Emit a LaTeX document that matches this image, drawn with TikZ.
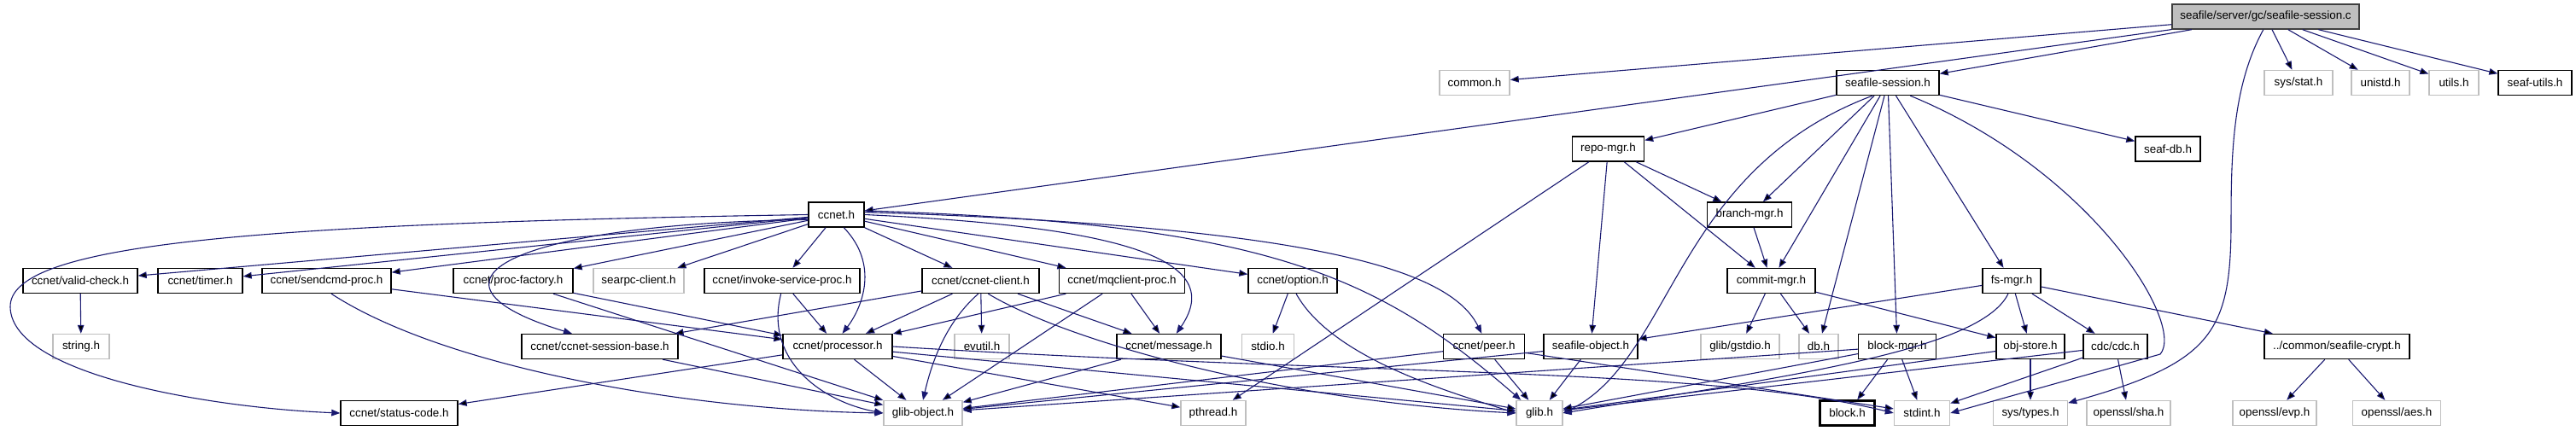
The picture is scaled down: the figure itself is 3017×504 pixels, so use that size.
\documentclass[tikz,border=0pt]{standalone}
\usepackage{fontspec}
\setmainfont{Liberation Sans}
\usetikzlibrary{arrows.meta,positioning}

\definecolor{depblue}{HTML}{191970}
\definecolor{sysgray}{HTML}{BFBFBF}

\tikzset{
  file/.style={draw=black, line width=0.7pt, fill=white, inner sep=0pt,
    minimum height=14.5pt, font=\fontsize{6.7}{8}\selectfont},
  sysfile/.style={file, draw=sysgray},
  rootfile/.style={file, fill=sysgray, draw=black!75},
  boxw/.style={minimum width=#1*0.5pt},
  dep/.style={->, >={Triangle[length=5pt,width=3.8pt]}, draw=depblue, line width=0.55pt}
}

\begin{document}
\begin{tikzpicture}[x=0.5pt,y=-0.5pt]
\useasboundingbox (0,0) rectangle (3017,504);

% the file itself
\node[rootfile, boxw=219] (root) at (2653.5,19.5) {seafile/server/gc/seafile-session.c};

% first level
\node[sysfile, boxw=82] (common)    at (1727,97) {common.h};
\node[file, boxw=120]   (sess)      at (2211,97) {seafile-session.h};
\node[sysfile, boxw=80] (sysstat)   at (2692,97) {sys/stat.h};
\node[sysfile, boxw=68] (unistd)    at (2788,97) {unistd.h};
\node[sysfile, boxw=58] (utils)     at (2874,97) {utils.h};
\node[file, boxw=86]    (seafutils) at (2969,97) {seaf-utils.h};

\node[file, boxw=84] (repo)   at (1883.5,174.5) {repo-mgr.h};
\node[file, boxw=76] (seafdb) at (2539,174.5) {seaf-db.h};
\node[file, boxw=65] (ccnet)  at (979.5,251.5) {ccnet.h};
\node[file, boxw=99] (branch) at (2049,251.5) {branch-mgr.h};

% headers of ccnet and the managers
\node[file, boxw=134]    (validcheck)  at (94,329)    {ccnet/valid-check.h};
\node[file, boxw=99]     (timer)       at (234.5,329) {ccnet/timer.h};
\node[file, boxw=151]    (sendcmd)     at (382.5,329) {ccnet/sendcmd-proc.h};
\node[file, boxw=140]    (procfactory) at (601,329)   {ccnet/proc-factory.h};
\node[sysfile, boxw=106] (searpc)      at (748,329)   {searpc-client.h};
\node[file, boxw=182]    (invoke)      at (916,329)   {ccnet/invoke-service-proc.h};
\node[file, boxw=137]    (client)      at (1148.5,329) {ccnet/ccnet-client.h};
\node[file, boxw=147]    (mqclient)    at (1314,329)  {ccnet/mqclient-proc.h};
\node[file, boxw=104]    (option)      at (1514,329)  {ccnet/option.h};
\node[file, boxw=103]    (commit)      at (2074.5,329) {commit-mgr.h};
\node[file, boxw=68]     (fsmgr)       at (2356,329)  {fs-mgr.h};

\node[sysfile, boxw=66] (string)    at (95,406)     {string.h};
\node[file, boxw=183]   (sessbase)  at (702.5,406)  {ccnet/ccnet-session-base.h};
\node[file, boxw=128]   (processor) at (981,406)    {ccnet/processor.h};
\node[sysfile, boxw=64] (evutil)    at (1150,406)   {evutil.h};
\node[file, boxw=122]   (message)   at (1369,406)   {ccnet/message.h};
\node[sysfile, boxw=61] (stdio)     at (1485,406)   {stdio.h};
\node[file, boxw=95]    (peer)      at (1738,406)   {ccnet/peer.h};
\node[file, boxw=110]   (seafobj)   at (1863,406)   {seafile-object.h};
\node[sysfile, boxw=92] (gstdio)    at (2038,406)   {glib/gstdio.h};
\node[sysfile, boxw=46] (db)        at (2130,406)   {db.h};
\node[file, boxw=91]    (blockmgr)  at (2222,406)   {block-mgr.h};
\node[file, boxw=80]    (objstore)  at (2378,406)   {obj-store.h};
\node[file, boxw=75]    (cdc)       at (2477.5,406) {cdc/cdc.h};
\node[file, boxw=170]   (crypt)     at (2737,406)   {../common/seafile-crypt.h};

% bottom row
\node[file, boxw=137]   (statuscode) at (467.5,484)  {ccnet/status-code.h};
\node[sysfile, boxw=92] (glibobj)    at (1081,484)   {glib-object.h};
\node[sysfile, boxw=76] (pthread)    at (1421,484)   {pthread.h};
\node[sysfile, boxw=54] (glib)       at (1803,484)   {glib.h};
\node[file, boxw=64, line width=1.1pt] (block) at (2163.5,484) {block.h};
\node[sysfile, boxw=65] (stdint)     at (2251,484)   {stdint.h};
\node[sysfile, boxw=87] (systypes)   at (2378,484)   {sys/types.h};
\node[sysfile, boxw=98] (sha)        at (2493,484)   {openssl/sha.h};
\node[sysfile, boxw=98] (evp)        at (2664,484)   {openssl/evp.h};
\node[sysfile, boxw=103] (aes)       at (2807,484)   {openssl/aes.h};

% includes
\path[dep] (root) edge (common) edge (ccnet) edge (sess) edge (sysstat)
                  edge (unistd) edge (utils) edge (seafutils);
\draw[dep] (root.-100) .. controls (2615,100) and (2613,180) .. (2613,260)
   .. controls (2613,390) and (2590,425) .. (systypes.15);

\path[dep] (sess) edge (repo) edge (branch) edge (commit) edge (db)
                  edge (blockmgr) edge (fsmgr) edge (seafdb);
\draw[dep] (sess.-140) .. controls (1960,200) and (1960,420) .. (glib.east);
\draw[dep] (sess.-30) .. controls (2450,200) and (2560,380) .. (2530,415)
   -- (stdint.east);

\path[dep] (repo) edge (branch) edge (commit) edge (seafobj) edge (pthread);
\path[dep] (branch) edge (commit);
\path[dep] (commit) edge (gstdio) edge (db) edge (objstore);
\path[dep] (fsmgr) edge (seafobj) edge (objstore) edge (cdc) edge (crypt);
\draw[dep] (fsmgr.-105) .. controls (2320,410) and (2100,440) .. (glib.east);
\path[dep] (crypt) edge (evp) edge (aes);
\path[dep] (cdc) edge (stdint) edge (sha) edge (glib);
\path[dep] (objstore) edge (systypes) edge (glib);
\path[dep] (blockmgr) edge (block) edge (stdint) edge (glib) edge (glibobj);
\path[dep] (seafobj) edge (glib) edge (glibobj);
\path[dep] (peer) edge (glib) edge (glibobj) edge (stdint);

\path[dep] (ccnet) edge (validcheck) edge (timer) edge (sendcmd) edge (procfactory)
   edge (searpc) edge (invoke) edge (client) edge (mqclient) edge (option);
\draw[dep] (ccnet.west) .. controls (300,262) and (10,285) .. (12,360)
   .. controls (14,440) and (250,478) .. (statuscode.west);
\draw[dep] (ccnet.190) .. controls (600,262) and (470,330) .. (sessbase.155);
\draw[dep] (ccnet.-60) .. controls (1030,310) and (1010,360) .. (processor.70);
\draw[dep] (ccnet.east) .. controls (1300,265) and (1440,300) .. (message.60);
\draw[dep] (ccnet.5) .. controls (1560,266) and (1700,320) .. (peer.100);
\draw[dep] (ccnet.8) .. controls (1480,262) and (1610,320) .. (glib.145);

\path[dep] (validcheck) edge (string);
\path[dep] (sendcmd) edge (processor);
\draw[dep] (sendcmd.-70) .. controls (520,430) and (800,480) .. (glibobj.west);
\path[dep] (procfactory) edge (processor) edge (glibobj);
\path[dep] (invoke) edge (processor);
\draw[dep] (invoke.-95) .. controls (895,420) and (960,470) .. (glibobj.west);
\path[dep] (client) edge (sessbase) edge (processor) edge (evutil) edge (message);
\draw[dep] (client.-100) .. controls (1105,380) and (1090,430) .. (glibobj.north);
\draw[dep] (client.-60) .. controls (1250,400) and (1500,470) .. (glib.west);
\path[dep] (mqclient) edge (processor) edge (message) edge (glibobj);
\path[dep] (option) edge (stdio);
\draw[dep] (option.-75) .. controls (1560,420) and (1700,460) .. (glib.west);
\path[dep] (sessbase) edge (glibobj);
\path[dep] (processor) edge (statuscode) edge (glibobj) edge (pthread) edge (glib);
\draw[dep] (processor.east) .. controls (1600,440) and (2000,430) .. (stdint.west);
\path[dep] (message) edge (glibobj) edge (glib);
\end{tikzpicture}
\end{document}
